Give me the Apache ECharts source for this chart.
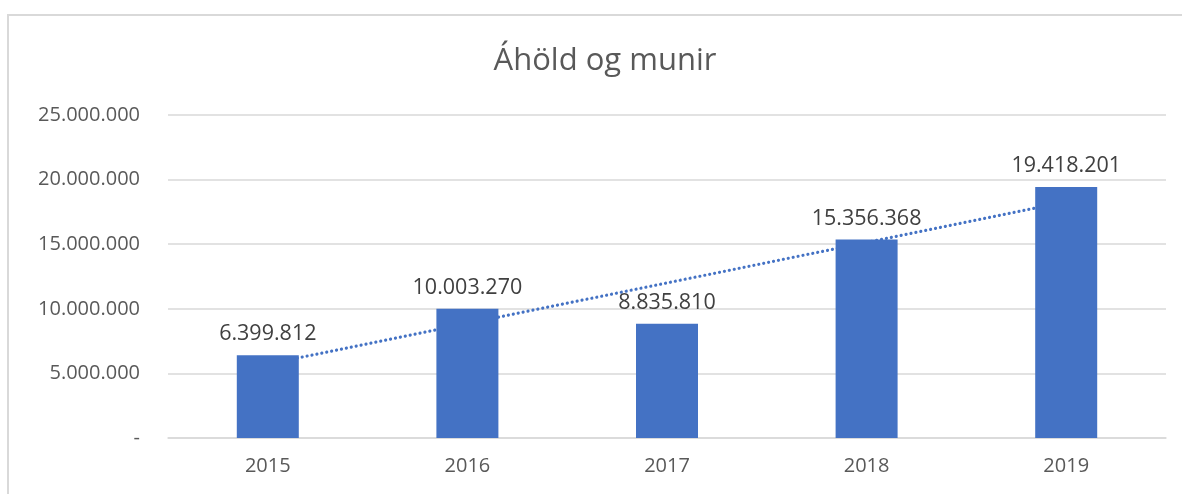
<!DOCTYPE html>
<html>
<head>
<meta charset="utf-8">
<script src="https://cdn.jsdelivr.net/npm/echarts@6/dist/echarts.min.js"></script>
<style>
  html, body { margin: 0; padding: 0; background: #fff; }
  #main { width: 1182px; height: 494px; }
</style>
</head>
<body>
<div id="main"></div>
<script>
var years = ['2015', '2016', '2017', '2018', '2019'];
var values = [6399812, 10003270, 8835810, 15356368, 19418201];
var yTicks = [0, 5000000, 10000000, 15000000, 20000000, 25000000];

// linuleg leitnilína (eins og í Excel)
var trend = (function () {
    var n = values.length, sx = 0, sy = 0, sxy = 0, sxx = 0;
    for (var i = 0; i < n; i++) {
        sx += i; sy += values[i]; sxy += i * values[i]; sxx += i * i;
    }
    var b = (n * sxy - sx * sy) / (n * sxx - sx * sx);
    var a = (sy - b * sx) / n;
    var res = [];
    for (var j = 0; j < n; j++) res.push(a + b * j);
    return res;
})();

function fmt(v) {
    if (v === 0) return '-';
    return String(Math.round(v)).replace(/\B(?=(\d{3})+(?!\d))/g, '.');
}

var font = '"Open Sans", "Noto Sans", sans-serif';
var chart = echarts.init(document.getElementById('main'));
chart.setOption({
    backgroundColor: '#fff',
    animation: false,
    title: {
        text: 'Áhöld og munir',
        left: 600,
        textAlign: 'center',
        top: 41,
        textStyle: { fontFamily: font, fontSize: 31, fontWeight: 'normal', color: '#595959' }
    },
    graphic: [{
        type: 'rect',
        shape: { x: 8, y: 15, width: 1300, height: 600 },
        style: { fill: 'none', stroke: '#d9d9d9', lineWidth: 2 },
        silent: true
    }],
    grid: { left: 168, right: 16, top: 115, bottom: 56, containLabel: false },
    xAxis: {
        type: 'category',
        data: years,
        axisLine: { lineStyle: { color: '#d9d9d9', width: 1.5 } },
        axisTick: { show: false },
        axisLabel: { fontFamily: font, fontSize: 20, color: '#595959', margin: 18 }
    },
    yAxis: {
        type: 'value',
        min: 0,
        max: yTicks[yTicks.length - 1],
        interval: yTicks[1] - yTicks[0],
        axisLine: { show: false },
        axisTick: { show: false },
        splitLine: { lineStyle: { color: '#d9d9d9', width: 1.5 } },
        axisLabel: { fontFamily: font, fontSize: 20, color: '#595959', margin: 28, formatter: fmt }
    },
    series: [
        {
            name: 'Leitni',
            type: 'line',
            data: trend,
            symbol: 'none',
            z: 1,
            lineStyle: { color: '#4472C4', width: 3.2, type: [0.01, 5], cap: 'round' }
        },
        {
            name: 'Áhöld og munir',
            type: 'bar',
            data: values,
            barWidth: 62,
            z: 2,
            itemStyle: { color: '#4472C4' },
            label: {
                show: true,
                position: 'top',
                distance: 10,
                fontFamily: font,
                fontSize: 21.5,
                color: '#404040',
                formatter: function (p) { return fmt(p.value); }
            }
        }
    ]
});
</script>
</body>
</html>
